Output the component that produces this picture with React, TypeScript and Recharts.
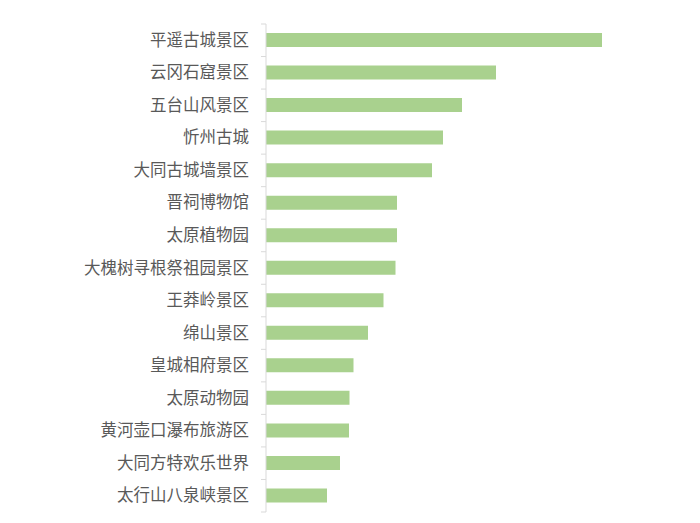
import React from 'react';
import { BarChart, Bar, XAxis, YAxis } from 'recharts';

const scenicSpots = [
  '平遥古城景区',
  '云冈石窟景区',
  '五台山风景区',
  '忻州古城',
  '大同古城墙景区',
  '晋祠博物馆',
  '太原植物园',
  '大槐树寻根祭祖园景区',
  '王莽岭景区',
  '绵山景区',
  '皇城相府景区',
  '太原动物园',
  '黄河壶口瀑布旅游区',
  '大同方特欢乐世界',
  '太行山八泉峡景区',
];

const heatValues = [336, 230, 196, 177, 166, 131, 131, 129.5, 117.5, 102, 87.5, 83.5, 83, 74, 61];

const chartData = scenicSpots.map((name, i) => ({ name, value: heatValues[i] }));

const WIDTH = 684;
const HEIGHT = 507;
const MARGIN = { top: 16, right: 26, bottom: 3, left: 1 };
const STEP = (HEIGHT - MARGIN.top - MARGIN.bottom) / scenicSpots.length;
const AXIS_COLOR = '#d9d9d9';

// label plus an Excel-style tick mark on the band boundary
function CategoryTick(props: any) {
  const { x, y, payload, index } = props;
  const lx = x + 12;
  const isLast = index === scenicSpots.length - 1;
  return (
    <g>
      <line x1={lx} x2={lx + 5} y1={y - STEP / 2} y2={y - STEP / 2} stroke={AXIS_COLOR} />
      {isLast && <line x1={lx} x2={lx + 5} y1={y + STEP / 2} y2={y + STEP / 2} stroke={AXIS_COLOR} />}
      <text
        x={x}
        y={y}
        dy={5.5}
        textAnchor="end"
        fill="#595959"
        fontSize={16.5}
        fontFamily="'Noto Sans CJK SC', sans-serif"
      >
        {payload.value}
      </text>
    </g>
  );
}

export default function App() {
  return (
    <BarChart width={WIDTH} height={HEIGHT} data={chartData} layout="vertical" margin={MARGIN}>
      <XAxis type="number" domain={[0, 400]} hide />
      <YAxis
        type="category"
        dataKey="name"
        width={257}
        interval={0}
        tickSize={5}
        tickMargin={12}
        tickLine={false}
        axisLine={{ stroke: AXIS_COLOR }}
        tick={<CategoryTick />}
      />
      <Bar dataKey="value" fill="#a9d18e" barSize={14} isAnimationActive={false} />
    </BarChart>
  );
}
